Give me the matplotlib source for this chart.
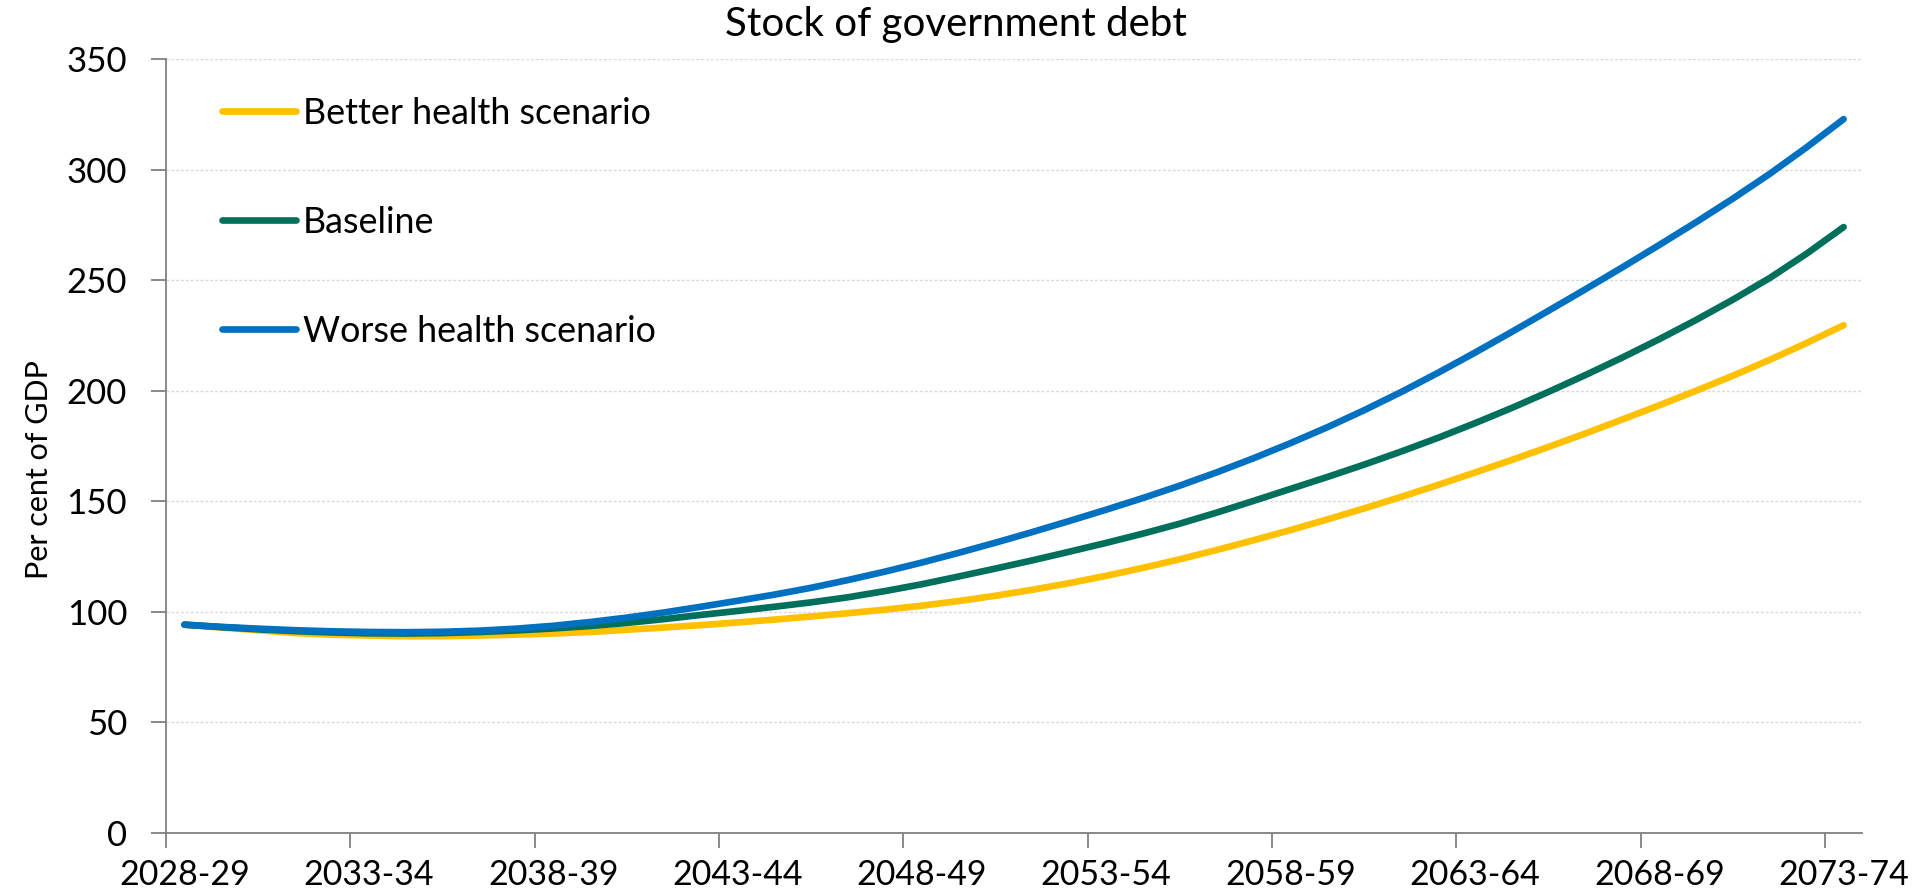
import matplotlib
matplotlib.use("Agg")
import matplotlib.pyplot as plt
import numpy as np

plt.rcParams['font.family'] = ['Lato', 'DejaVu Sans']

# Fiscal years 2028-29 .. 2073-74
years = [f"{y}-{(y + 1) % 100:02d}" for y in range(2028, 2074)]

# Per cent of GDP
better = [94.2, 92.9, 91.7, 90.4, 89.7, 89.3, 89.0, 89.0, 89.3, 89.7,
          90.2, 90.9, 91.9, 92.9, 94.0, 95.2, 96.5, 97.9, 99.4, 101.0,
          102.8, 104.9, 107.3, 110.0, 113.0, 116.3, 119.9, 123.8, 128.0, 132.4,
          137.0, 141.8, 146.8, 152.0, 157.4, 163.0, 168.7, 174.6, 180.7, 187.0,
          193.4, 200.0, 206.8, 214.0, 221.6, 229.6]
baseline = [94.2, 93.1, 92.1, 91.3, 90.7, 90.3, 90.2, 90.4, 90.9, 91.6,
            92.5, 93.6, 95.0, 96.7, 98.6, 100.4, 102.3, 104.3, 106.6, 109.4,
            112.5, 116.0, 119.6, 123.3, 127.2, 131.2, 135.4, 139.9, 144.9, 150.2,
            155.6, 161.0, 166.6, 172.5, 178.7, 185.3, 192.2, 199.5, 207.1, 215.0,
            223.3, 232.0, 241.2, 251.0, 262.0, 274.0]
worse = [94.2, 93.2, 92.4, 91.7, 91.2, 90.9, 90.8, 91.0, 91.5, 92.4,
         93.7, 95.4, 97.4, 99.7, 102.3, 105.0, 107.8, 110.9, 114.4, 118.2,
         122.3, 126.7, 131.3, 136.1, 141.1, 146.2, 151.5, 157.1, 163.1, 169.5,
         176.3, 183.5, 191.2, 199.4, 208.1, 217.2, 226.6, 236.2, 245.9, 255.8,
         265.9, 276.2, 286.9, 298.1, 310.1, 322.8]

series = [
    ("Better health scenario", better, "#FFC000"),
    ("Baseline", baseline, "#00705C"),
    ("Worse health scenario", worse, "#0070C0"),
]

fig = plt.figure(figsize=(19.31, 8.96), dpi=100)
ax = fig.add_axes([0.086, 0.0703, 0.8783, 0.8639])

x = np.arange(len(years))
for name, vals, col in series:
    ax.plot(x, vals, color=col, lw=4.8, solid_capstyle='round',
            solid_joinstyle='round', label=name)

ax.set_xlim(-0.5, len(years) - 0.5)
ax.set_ylim(0, 350)
ax.set_yticks(np.arange(0, 351, 50))

# labels at every fifth year, tick marks on the category boundaries
ax.set_xticks(x[::5])
ax.set_xticklabels(years[::5])
ax.set_xticks(np.arange(-0.5, len(years) - 1, 5), minor=True)
ax.tick_params(axis='x', which='major', length=0, pad=19, labelsize=24.5)
ax.tick_params(axis='x', which='minor', length=11, width=1.3, color='#808080')
ax.tick_params(axis='y', length=11, width=1.3, color='#808080', pad=17,
               labelsize=25)

ax.grid(axis='y', color='#D9D9D9', lw=1, ls=(0, (2, 1.5)))
ax.set_axisbelow(True)
for s in ['top', 'right']:
    ax.spines[s].set_visible(False)
for s in ['left', 'bottom']:
    ax.spines[s].set_color('#808080')
    ax.spines[s].set_linewidth(1.3)

ax.set_ylabel("Per cent of GDP", fontsize=22)
ax.yaxis.set_label_coords(-0.0666, 0.47)
fig.text(0.495, 0.973, "Stock of government debt", ha='center', va='center',
         fontsize=29)

leg = ax.legend(loc='upper left', bbox_to_anchor=(0.033, 0.951), frameon=False,
                fontsize=25.8, handlelength=2.07, handletextpad=0.18,
                labelspacing=2.12, borderpad=0, borderaxespad=0)

fig.savefig("out.png", dpi=100)
